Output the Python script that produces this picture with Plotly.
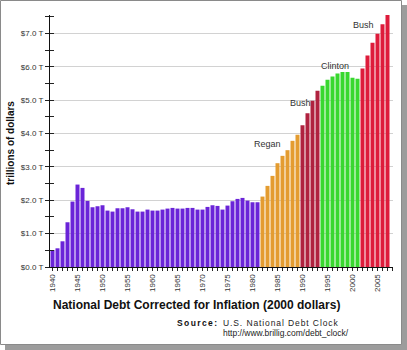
import plotly.graph_objects as go

# ---------------- data ----------------
years = list(range(1940, 2008))
debt_trillions = [
    0.51, 0.56, 0.77, 1.34, 1.96, 2.47, 2.37, 1.98, 1.79, 1.82,   # 1940-49
    1.85, 1.69, 1.66, 1.76, 1.76, 1.79, 1.73, 1.66, 1.66, 1.72,   # 1950-59
    1.69, 1.69, 1.72, 1.75, 1.77, 1.75, 1.75, 1.77, 1.77, 1.72,   # 1960-69
    1.72, 1.80, 1.85, 1.83, 1.72, 1.84, 1.97, 2.04, 2.07, 1.99,   # 1970-79
    1.94, 1.94, 2.11, 2.43, 2.73, 3.11, 3.33, 3.50, 3.78, 3.96,   # 1980-89
    4.25, 4.61, 4.98, 5.28, 5.43, 5.61, 5.71, 5.80, 5.84, 5.84,   # 1990-99
    5.67, 5.64, 5.95, 6.34, 6.72, 6.99, 7.27, 7.55,               # 2000-07
]
# president periods (first year, last year, label, colour)
period_start = [1940, 1982, 1990, 1994, 2002]
period_end = [1981, 1989, 1993, 2001, 2007]
period_colors = ["#6a24d8", "#e49c30", "#b0223f", "#38d82f", "#de1b3b"]
label_text = ["Regan", "Bush", "Clinton", "Bush"]
label_x = [1982.9, 1989.5, 1996.5, 2002.1]
label_y = [3.69, 4.92, 6.03, 7.24]

tick_years = list(range(1940, 2006, 5))
y_ticks = [0, 1, 2, 3, 4, 5, 6, 7]
y_tick_text = ["$%.1f T" % v for v in y_ticks]

title_text = "National Debt Corrected for Inflation (2000 dollars)"
y_title = "trillions of dollars"

# ---------------- layout geometry ----------------
W, H = 407, 350
ML, MR, MT, MB = 50, 14, 15, 83
PW, PH = W - ML - MR, H - MT - MB


def px(x):
    return (x - ML) / PW


def py(y):
    return (H - MB - y) / PH


bar_colors = []
for yr in years:
    for s, e, c in zip(period_start, period_end, period_colors):
        if s <= yr <= e:
            bar_colors.append(c)
            break

fig = go.Figure()
fig.add_trace(go.Bar(
    x=years, y=debt_trillions,
    marker=dict(color=bar_colors, line=dict(width=0)),
    hoverinfo="skip",
))
# dummy trace on overlay axis to carry inside ticks
fig.add_trace(go.Scatter(x=[years[0]], y=[0], yaxis="y2", mode="markers",
                         marker=dict(opacity=0), showlegend=False, hoverinfo="skip"))

axis_font = dict(family="Liberation Sans, Arial", size=8, color="#333333")

fig.update_layout(
    width=W, height=H,
    margin=dict(l=ML, r=MR, t=MT, b=MB, pad=0),
    paper_bgcolor="white",
    plot_bgcolor="rgba(0,0,0,0)",
    showlegend=False,
    bargap=0.2,
    xaxis=dict(
        range=[1939.5, 2008.1],
        tickmode="array", tickvals=tick_years, ticktext=[str(t) for t in tick_years],
        tickangle=-90,
        ticks="outside", ticklen=3, tickcolor="#222", tickwidth=1,
        minor=dict(dtick=1, tick0=1940, ticks="outside", ticklen=3, tickcolor="#222", showgrid=False),
        showline=True, linecolor="#111", linewidth=1,
        showgrid=False, zeroline=False,
        tickfont=axis_font,
    ),
    yaxis=dict(
        range=[0, 7.55],
        tickmode="array", tickvals=y_ticks, ticktext=y_tick_text,
        ticks="outside", ticklen=4, tickcolor="#222", tickwidth=1,
        minor=dict(dtick=0.5, tick0=0, ticks="outside", ticklen=4, tickcolor="#222", showgrid=False),
        showline=True, linecolor="#111", linewidth=1,
        showgrid=True, gridcolor="#d2d2d2", gridwidth=1,
        zeroline=False,
        tickfont=dict(family="Liberation Sans, Arial", size=8, color="#333333"),
    ),
    yaxis2=dict(
        overlaying="y", side="left", range=[0, 7.55],
        tickmode="linear", tick0=0, dtick=0.5,
        ticks="inside", ticklen=4, tickcolor="#222",
        showticklabels=False, showgrid=False, zeroline=False, showline=False,
    ),
)

# president labels
for t, x, y in zip(label_text, label_x, label_y):
    fig.add_annotation(x=x, y=y, xref="x", yref="y", text=t, showarrow=False,
                       font=dict(family="Liberation Sans, Arial", size=9, color="#333333"),
                       xanchor="center", yanchor="middle")

# y-axis title
fig.add_annotation(x=px(10), y=py(143), xref="paper", yref="paper", text="<b>%s</b>" % y_title,
                   textangle=-90, showarrow=False,
                   font=dict(family="Liberation Sans, Arial", size=10, color="#111"),
                   xanchor="center", yanchor="middle")
# chart title
fig.add_annotation(x=px(196), y=py(305), xref="paper", yref="paper", text="<b>%s</b>" % title_text,
                   showarrow=False,
                   font=dict(family="Liberation Sans, Arial", size=12, color="#111"),
                   xanchor="center", yanchor="middle")
# source
fig.add_annotation(x=px(175), y=py(323), xref="paper", yref="paper",
                   text='<span style="letter-spacing:1.4px"><b>Source:</b></span>',
                   showarrow=False,
                   font=dict(family="Liberation Sans, Arial", size=8.5, color="#111"),
                   xanchor="left", yanchor="middle")
fig.add_annotation(x=px(221), y=py(323), xref="paper", yref="paper",
                   text='<span style="letter-spacing:0.9px">U.S. National Debt Clock</span>',
                   showarrow=False,
                   font=dict(family="Liberation Sans, Arial", size=8.5, color="#222"),
                   xanchor="left", yanchor="middle")
fig.add_annotation(x=px(221), y=py(333), xref="paper", yref="paper",
                   text="http://www.brillig.com/debt_clock/",
                   showarrow=False,
                   font=dict(family="Liberation Sans, Arial", size=8.5, color="#222"),
                   xanchor="left", yanchor="middle")

# picture frame with drop shadow
fig.add_shape(type="rect", xref="paper", yref="paper", layer="below",
              x0=px(5), x1=px(407), y0=py(350), y1=py(5),
              fillcolor="#9c9c9c", line=dict(width=0))
fig.add_shape(type="rect", xref="paper", yref="paper", layer="below",
              x0=px(0.5), x1=px(401.5), y0=py(344.5), y1=py(0.5),
              fillcolor="white", line=dict(color="#8a8a8a", width=1))

fig.write_html("out.html")
